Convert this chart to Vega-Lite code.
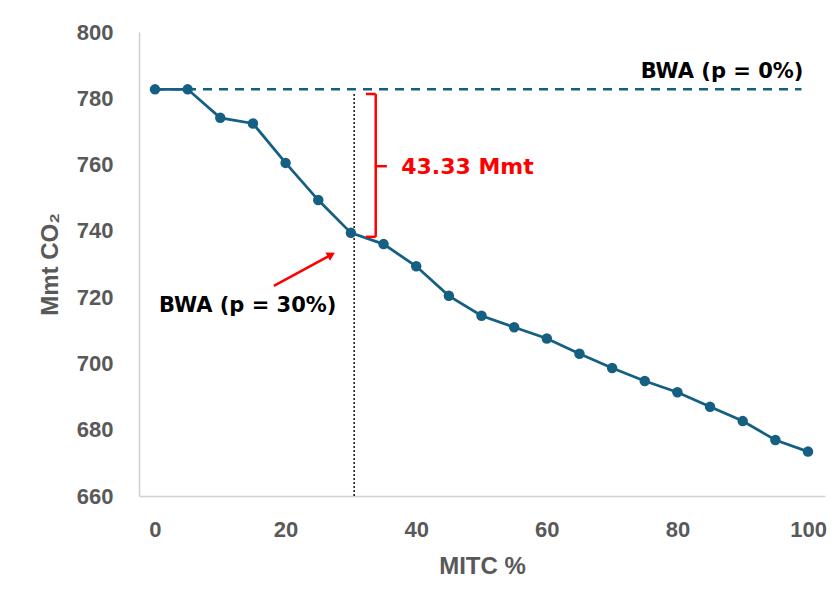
{
  "$schema": "https://vega.github.io/schema/vega-lite/v6.json",
  "width": 686,
  "height": 464,
  "autosize": {"type": "none"},
  "padding": {"left": 139, "top": 32, "right": 15, "bottom": 114},
  "background": "white",
  "config": {
    "view": {"stroke": null},
    "font": "Liberation Sans"
  },
  "datasets": {
    "series": [
      {"mitc": 0, "co2": 782.7},
      {"mitc": 5, "co2": 782.7},
      {"mitc": 10, "co2": 774.1},
      {"mitc": 15, "co2": 772.4},
      {"mitc": 20, "co2": 760.5},
      {"mitc": 25, "co2": 749.3},
      {"mitc": 30, "co2": 739.4},
      {"mitc": 35, "co2": 736.0},
      {"mitc": 40, "co2": 729.3},
      {"mitc": 45, "co2": 720.4},
      {"mitc": 50, "co2": 714.4},
      {"mitc": 55, "co2": 710.9},
      {"mitc": 60, "co2": 707.5},
      {"mitc": 65, "co2": 702.9},
      {"mitc": 70, "co2": 698.6},
      {"mitc": 75, "co2": 694.7},
      {"mitc": 80, "co2": 691.3},
      {"mitc": 85, "co2": 686.9},
      {"mitc": 90, "co2": 682.6},
      {"mitc": 95, "co2": 676.9},
      {"mitc": 100, "co2": 673.4}
    ]
  },
  "layer": [
    {
      "data": {"values": [{"x": 0, "x2": 99, "y": 782.7}]},
      "mark": {"type": "rule", "color": "#156082", "strokeWidth": 2.5, "strokeDash": [9, 7]},
      "encoding": {
        "x": {"field": "x", "type": "quantitative", "scale": {"domain": [-2.45, 102.6], "nice": false, "zero": false},
          "axis": {"values": [0, 20, 40, 60, 80, 100], "title": "MITC %", "grid": false, "ticks": false,
            "domainColor": "#d0d0d0", "domainWidth": 1.5, "labelFontSize": 22, "labelFontWeight": "bold", "labelColor": "#595959",
            "labelPadding": 23, "titleFontSize": 24, "titleFontWeight": "bold", "titleColor": "#595959", "titlePadding": 14}},
        "x2": {"field": "x2"},
        "y": {"field": "y", "type": "quantitative", "scale": {"domain": [660, 800], "nice": false, "zero": false},
          "axis": {"values": [660, 680, 700, 720, 740, 760, 780, 800], "title": "Mmt CO₂", "grid": false, "ticks": false,
            "domainColor": "#d0d0d0", "domainWidth": 1.5, "labelFontSize": 22, "labelFontWeight": "bold", "labelColor": "#595959",
            "labelPadding": 26, "titleFontSize": 24, "titleFontWeight": "bold", "titleColor": "#595959", "titlePadding": 14}}
      }
    },
    {
      "data": {"values": [{"x": 30.5, "y": 781.3, "y2": 660}]},
      "mark": {"type": "rule", "color": "#111111", "strokeWidth": 1.5, "strokeDash": [2, 2]},
      "encoding": {
        "x": {"field": "x", "type": "quantitative"},
        "y": {"field": "y", "type": "quantitative"},
        "y2": {"field": "y2"}
      }
    },
    {
      "data": {"name": "series"},
      "mark": {"type": "line", "color": "#156082", "strokeWidth": 2.75, "point": {"filled": true, "size": 110, "color": "#156082", "opacity": 1}},
      "encoding": {
        "x": {"field": "mitc", "type": "quantitative"},
        "y": {"field": "co2", "type": "quantitative"}
      }
    },
    {
      "data": {"values": [
        {"x": 33.8, "x2": 33.8, "y": 781.3, "y2": 738.2},
        {"x": 32.3, "x2": 33.8, "y": 781.3, "y2": 781.3},
        {"x": 32.3, "x2": 33.8, "y": 738.2, "y2": 738.2},
        {"x": 33.8, "x2": 35.5, "y": 759.5, "y2": 759.5}
      ]},
      "mark": {"type": "rule", "color": "#ff0000", "strokeWidth": 2.5},
      "encoding": {
        "x": {"field": "x", "type": "quantitative"},
        "x2": {"field": "x2"},
        "y": {"field": "y", "type": "quantitative"},
        "y2": {"field": "y2"}
      }
    },
    {
      "data": {"values": [{"x": 18.2, "x2": 26.6, "y": 723.4, "y2": 732.4}]},
      "mark": {"type": "rule", "color": "#ff0000", "strokeWidth": 2.5},
      "encoding": {
        "x": {"field": "x", "type": "quantitative"},
        "x2": {"field": "x2"},
        "y": {"field": "y", "type": "quantitative"},
        "y2": {"field": "y2"}
      }
    },
    {
      "data": {"values": [{"x": 27.0, "y": 732.8}]},
      "mark": {"type": "point", "shape": "triangle-up", "filled": true, "color": "#ff0000", "size": 90, "angle": 61, "opacity": 1},
      "encoding": {
        "x": {"field": "x", "type": "quantitative"},
        "y": {"field": "y", "type": "quantitative"}
      }
    },
    {
      "data": {"values": [
        {"x": 99.3, "y": 787.8, "label": "BWA (p = 0%)"}
      ]},
      "mark": {"type": "text", "font": "DejaVu Sans", "fontWeight": "bold", "fontSize": 21, "align": "right", "baseline": "middle", "color": "#000000"},
      "encoding": {
        "x": {"field": "x", "type": "quantitative"},
        "y": {"field": "y", "type": "quantitative"},
        "text": {"field": "label"}
      }
    },
    {
      "data": {"values": [
        {"x": 14.2, "y": 717.3, "label": "BWA (p = 30%)"}
      ]},
      "mark": {"type": "text", "font": "DejaVu Sans", "fontWeight": "bold", "fontSize": 21, "align": "center", "baseline": "middle", "color": "#000000"},
      "encoding": {
        "x": {"field": "x", "type": "quantitative"},
        "y": {"field": "y", "type": "quantitative"},
        "text": {"field": "label"}
      }
    },
    {
      "data": {"values": [
        {"x": 37.7, "y": 759.3, "label": "43.33 Mmt"}
      ]},
      "mark": {"type": "text", "font": "DejaVu Sans", "fontWeight": "bold", "fontSize": 22, "align": "left", "baseline": "middle", "color": "#ff0000"},
      "encoding": {
        "x": {"field": "x", "type": "quantitative"},
        "y": {"field": "y", "type": "quantitative"},
        "text": {"field": "label"}
      }
    }
  ]
}
